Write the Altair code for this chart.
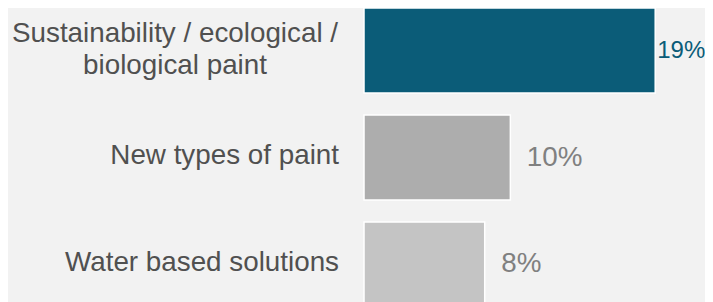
import altair as alt
import pandas as pd

categories = [
    "Sustainability / ecological /\nbiological paint",
    "New types of paint",
    "Water based solutions",
]
values = [19.3, 9.7, 8.0]
value_labels = ["19%", "10%", "8%"]

bar_colors = ["#0b5c78", "#adadad", "#c4c4c4"]
teal = "#0b5c78"
value_gray = "#808080"
text_gray = "#505050"
font = "Liberation Sans"
fsize = 27.8

df = pd.DataFrame({"cat": categories, "value": values, "label": value_labels})

yscale = alt.Scale(domain=categories, paddingInner=0.2056, paddingOuter=0, range=[0, 299])
y = alt.Y("cat:N", sort=None, axis=None, scale=yscale)
x = alt.X("value:Q", axis=None, scale=alt.Scale(domain=[0, 22.6]))

base = alt.Chart(df)

bars = base.mark_bar(stroke="white", strokeWidth=1.5).encode(
    x=x,
    y=y,
    color=alt.Color(
        "cat:N", sort=None,
        scale=alt.Scale(domain=categories, range=bar_colors), legend=None
    ),
)

first = alt.datum.cat == categories[0]
others = alt.datum.cat != categories[0]

val_first = base.transform_filter(first).mark_text(
    align="left", baseline="middle", dx=2, font=font, fontSize=24, color=teal
).encode(x=x, y=y, text="label:N")

val_others = base.transform_filter(others).mark_text(
    align="left", baseline="middle", dx=16.5, font=font, fontSize=fsize, color=value_gray
).encode(x=x, y=y, text="label:N")

cat_first = base.transform_filter(first).mark_text(
    align="center", baseline="middle", dy=-16.5, font=font, fontSize=fsize, color=text_gray,
    lineBreak="\n", lineHeight=32.3
).encode(x=alt.value(-189), y=y, text="cat:N")

cat_others = base.transform_filter(others).mark_text(
    align="right", baseline="middle", dy=-1.5, font=font, fontSize=fsize, color=text_gray
).encode(x=alt.value(-25), y=y, text="cat:N")

chart = alt.layer(bars, val_first, val_others, cat_first, cat_others).properties(
    width=341,
    height=294,
    background="#f2f2f2",
    padding={"left": 356, "top": 0, "right": 0, "bottom": 0},
    autosize=alt.AutoSizeParams(type="none"),
).configure_view(stroke=None)

chart.save("out.html", embed_options={"renderer": "svg", "actions": False})
